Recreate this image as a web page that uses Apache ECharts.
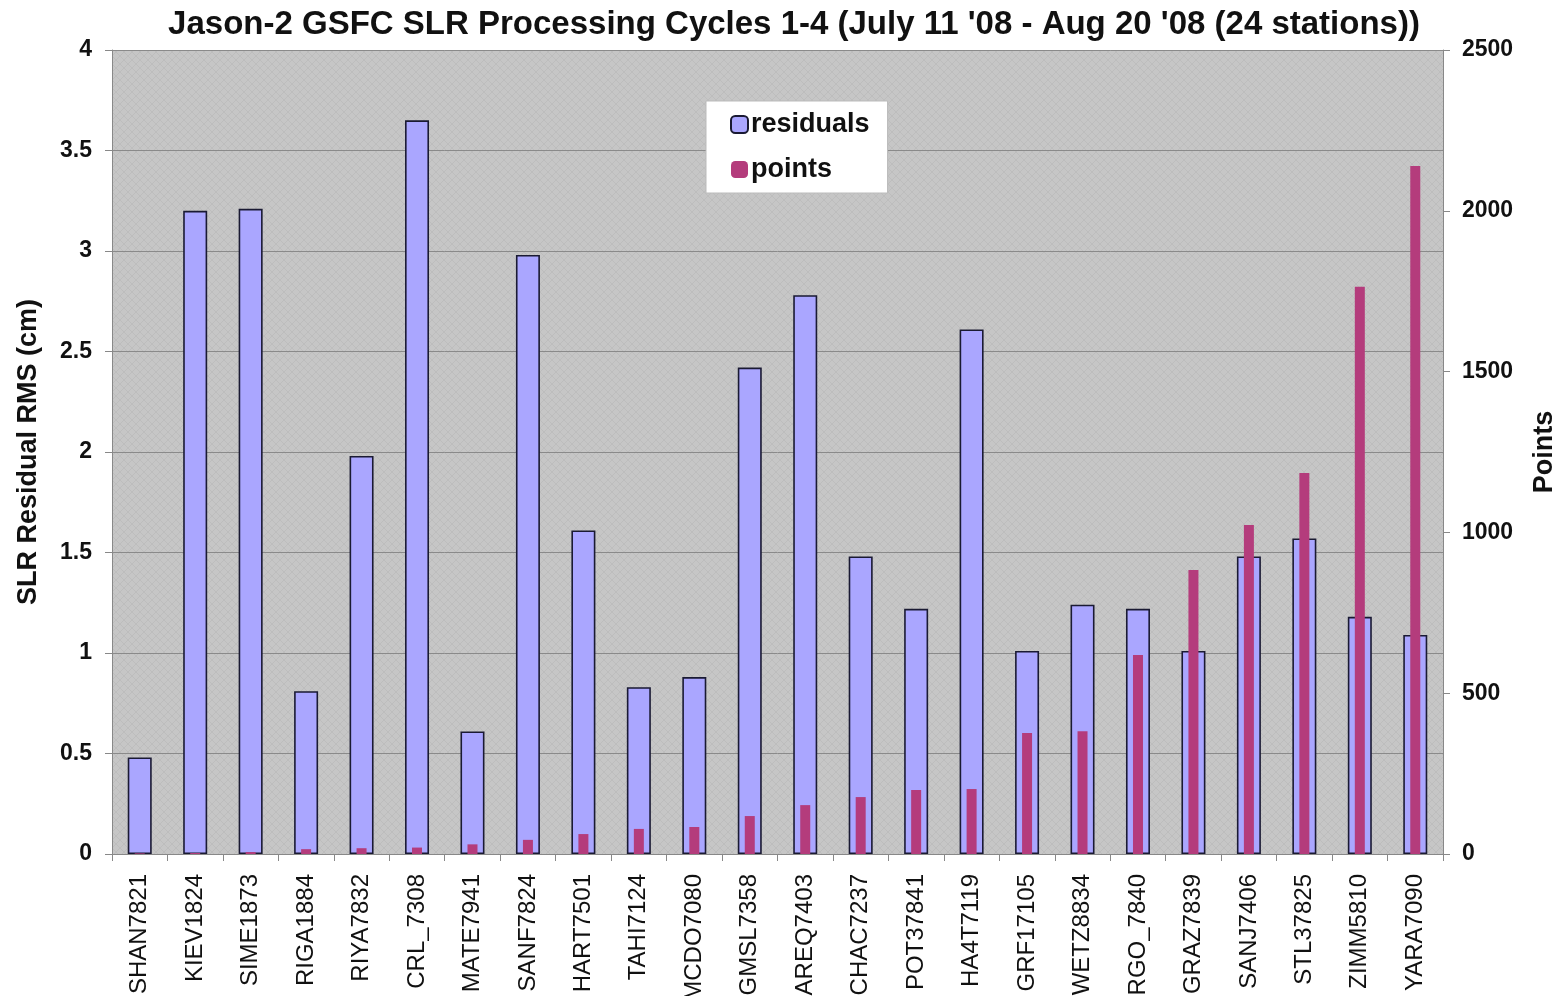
<!DOCTYPE html>
<html>
<head>
<meta charset="utf-8">
<script src="https://cdn.jsdelivr.net/npm/echarts@6/dist/echarts.min.js"></script>
<style>
  html, body { margin: 0; padding: 0; background: #fff; }
  #main { width: 1559px; height: 996px; }
</style>
</head>
<body>
<div id="main"></div>
<script>
const stations = ['SHAN7821', 'KIEV1824', 'SIME1873', 'RIGA1884', 'RIYA7832', 'CRL_7308',
  'MATE7941', 'SANF7824', 'HART7501', 'TAHI7124', 'MCDO7080', 'GMSL7358', 'AREQ7403',
  'CHAC7237', 'POT37841', 'HA4T7119', 'GRF17105', 'WETZ8834', 'RGO_7840', 'GRAZ7839',
  'SANJ7406', 'STL37825', 'ZIMM5810', 'YARA7090']
const residuals = [0.48, 3.2, 3.21, 0.81, 1.98, 3.65, 0.61, 2.98, 1.61, 0.83, 0.88, 2.42,
  2.78, 1.48, 1.22, 2.61, 1.01, 1.24, 1.22, 1.01, 1.48, 1.57, 1.18, 1.09]
const points = [2, 3, 6, 15, 18, 20, 30, 44, 62, 78, 84, 118, 152, 177, 199, 202, 376, 382,
  619, 883, 1023, 1185, 1764, 2139]

const font = 'Liberation Sans, Arial, sans-serif'

// cross-hatch background like the old spreadsheet plot area
const pat = document.createElement('canvas')
pat.width = 8
pat.height = 8
const pc = pat.getContext('2d')
pc.fillStyle = '#c6c6c6'
pc.fillRect(0, 0, 8, 8)
pc.fillStyle = '#bdbdbd'
for (let i = 0; i < 8; i++) {
  pc.fillRect(i, i, 1, 1)
  pc.fillRect(7 - i, i, 1, 1)
}

const myChart = echarts.init(document.getElementById('main'))
myChart.setOption({
  animation: false,
  title: {
    text: "Jason-2 GSFC SLR Processing Cycles 1-4 (July 11 '08 - Aug 20 '08 (24 stations))",
    left: 789,
    textAlign: 'center',
    top: 3,
    textStyle: { fontFamily: font, fontSize: 33, fontWeight: 'bold', color: '#111' }
  },
  legend: {
    data: ['residuals', 'points'],
    orient: 'vertical',
    left: 706,
    top: 101,
    padding: [10, 18, 10, 24],
    itemGap: 18,
    itemWidth: 17,
    itemHeight: 17,
    backgroundColor: '#fff',
    borderColor: '#bbb',
    borderWidth: 1,
    textStyle: { fontFamily: font, fontSize: 27, fontWeight: 'bold', color: '#111', padding: [0, 0, 0, -2] }
  },
  grid: {
    left: 112, right: 116, top: 50, bottom: 142,
    outerBoundsMode: 'none',
    containLabel: false,
    show: true,
    backgroundColor: { image: pat, repeat: 'repeat' },
    borderWidth: 0
  },
  xAxis: [{
    type: 'category',
    data: stations,
    axisLine: { lineStyle: { color: '#888' } },
    axisTick: { show: true, length: 7, lineStyle: { color: '#888' } },
    axisLabel: {
      rotate: 90, interval: 0, margin: 20,
      fontFamily: font, fontSize: 24, color: '#111'
    }
  }, {
    type: 'category',
    data: stations,
    show: false,
    position: 'bottom'
  }],
  yAxis: [{
    type: 'value',
    min: 0, max: 4, interval: 0.5,
    name: 'SLR Residual RMS (cm)',
    nameLocation: 'middle',
    nameRotate: 90,
    nameGap: 70,
    nameTextStyle: { fontFamily: font, fontSize: 27, fontWeight: 'bold', color: '#111' },
    axisLine: { show: true, lineStyle: { color: '#888' } },
    axisTick: { show: true, length: 7, lineStyle: { color: '#888' } },
    splitLine: { lineStyle: { color: '#8a8a8a', width: 1 } },
    axisLabel: { fontFamily: font, fontSize: 23, fontWeight: 'bold', color: '#111', margin: 20 }
  }, {
    type: 'value',
    min: 0, max: 2500, interval: 500,
    name: 'Points',
    nameLocation: 'middle',
    nameRotate: 90,
    nameGap: 88,
    nameTextStyle: { fontFamily: font, fontSize: 27, fontWeight: 'bold', color: '#111' },
    axisLine: { show: true, lineStyle: { color: '#888' } },
    axisTick: { show: true, length: 7, lineStyle: { color: '#888' } },
    splitLine: { show: false },
    axisLabel: {
      fontFamily: font, fontSize: 23, fontWeight: 'bold', color: '#111', margin: 19,
      formatter: v => String(v)
    }
  }],
  series: [{
    name: 'residuals',
    type: 'bar',
    data: residuals,
    xAxisIndex: 0,
    yAxisIndex: 0,
    barWidth: 24,
    itemStyle: { color: '#aaa6ff', borderColor: '#1a1a33', borderWidth: 1.6 }
  }, {
    name: 'points',
    type: 'bar',
    data: points,
    xAxisIndex: 1,
    yAxisIndex: 1,
    barWidth: 10,
    itemStyle: { color: '#b43c7c' }
  }]
})
</script>
</body>
</html>
